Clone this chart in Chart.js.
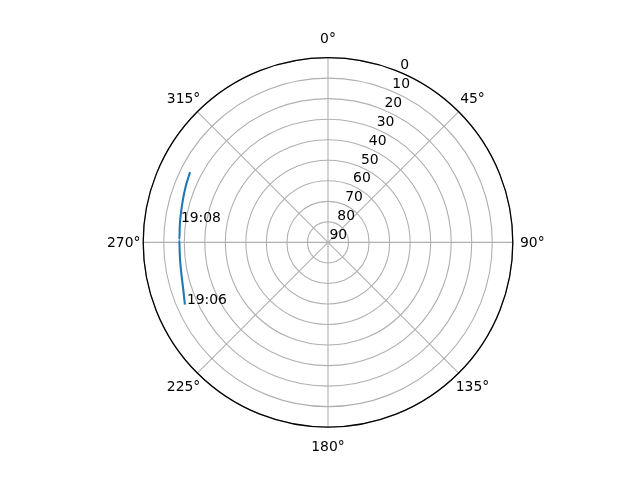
<!DOCTYPE html>
<html>
<head>
<meta charset="utf-8">
<script src="https://cdn.jsdelivr.net/npm/chart.js@4/dist/chart.umd.min.js"></script>
<style>
  html, body { margin: 0; padding: 0; background: #fff; }
  canvas { display: block; }
</style>
</head>
<body>
<canvas id="sky" width="640" height="480"></canvas>
<script>
// satellite track (azimuth in degrees, clockwise from north; elevation in degrees)
const trackAzimuth = [246.5, 251, 256, 261, 266, 271, 276, 281, 286, 291, 297];
const trackElevation = [14.0, 15.6, 16.7, 17.3, 17.6, 17.6, 17.4, 17.0, 16.4, 15.6, 14.6];

// time labels along the track
const timeLabels = ['19:06', '19:08'];
const timeAzimuth = [246.4, 277.8];
const timeElevation = [15.0, 17.7];

// axis ticks
const elevationTicks = [0, 10, 20, 30, 40, 50, 60, 70, 80, 90];
const azimuthTicks = [0, 45, 90, 135, 180, 225, 270, 315];

const FONT = '13.9px "DejaVu Sans", sans-serif';

// elevation 90 at the centre, 0 on the rim
function toXY(az, el) {
    const r = 90 - el;
    const t = az * Math.PI / 180;
    return { x: r * Math.sin(t), y: r * Math.cos(t) };
}

const trackPoints = trackAzimuth.map((az, i) => toXY(az, trackElevation[i]));

// polar grid, tick labels and annotations, drawn with the x/y scales
const polarGrid = {
    id: 'polarGrid',
    beforeDatasetsDraw(chart) {
        const ctx = chart.ctx;
        const sx = chart.scales.x, sy = chart.scales.y;
        const cx = sx.getPixelForValue(0), cy = sy.getPixelForValue(0);
        const unit = sx.getPixelForValue(1) - cx;

        ctx.save();
        ctx.strokeStyle = '#b0b0b0';
        ctx.lineWidth = 1.1;
        elevationTicks.forEach(el => {
            const r = (90 - el) * unit;
            if (r <= 0) return;
            ctx.beginPath();
            ctx.arc(cx, cy, r, 0, Math.PI * 2);
            ctx.stroke();
        });
        azimuthTicks.forEach(az => {
            const p = toXY(az, 0);
            ctx.beginPath();
            ctx.moveTo(cx, cy);
            ctx.lineTo(sx.getPixelForValue(p.x), sy.getPixelForValue(p.y));
            ctx.stroke();
        });
        ctx.restore();
    },
    afterDatasetsDraw(chart) {
        const ctx = chart.ctx;
        const sx = chart.scales.x, sy = chart.scales.y;
        const cx = sx.getPixelForValue(0), cy = sy.getPixelForValue(0);
        const unit = sx.getPixelForValue(1) - cx;
        const R = 90 * unit;

        ctx.save();
        // rim
        ctx.strokeStyle = '#000';
        ctx.lineWidth = 1.3;
        ctx.beginPath();
        ctx.arc(cx, cy, R, 0, Math.PI * 2);
        ctx.stroke();

        ctx.fillStyle = '#000';
        ctx.font = FONT;

        // azimuth labels
        ctx.textAlign = 'center';
        ctx.textBaseline = 'middle';
        azimuthTicks.forEach(az => {
            const t = az * Math.PI / 180;
            const d = R + 19.5;
            ctx.fillText(az + '°', cx + d * Math.sin(t), cy - d * Math.cos(t) + 1);
        });

        // elevation labels along 22.5°
        ctx.textAlign = 'left';
        ctx.textBaseline = 'alphabetic';
        elevationTicks.forEach(el => {
            const p = toXY(22.5, el);
            ctx.fillText(String(el), sx.getPixelForValue(p.x) + 1.5, sy.getPixelForValue(p.y) - 3);
        });

        // time annotations
        timeLabels.forEach((txt, i) => {
            const p = toXY(timeAzimuth[i], timeElevation[i]);
            ctx.fillText(txt, sx.getPixelForValue(p.x), sy.getPixelForValue(p.y));
        });
        ctx.restore();
    }
};

new Chart(document.getElementById('sky'), {
    type: 'scatter',
    data: {
        datasets: [{
            data: trackPoints,
            showLine: true,
            borderColor: '#1f77b4',
            borderWidth: 2.1,
            pointRadius: 0,
            tension: 0.4,
            cubicInterpolationMode: 'monotone'
        }]
    },
    options: {
        responsive: false,
        animation: false,
        layout: { padding: { left: 143.2, right: 127.2, top: 57.6, bottom: 52.8 } },
        scales: {
            x: { type: 'linear', min: -90, max: 90, display: false },
            y: { type: 'linear', min: -90, max: 90, display: false }
        },
        plugins: { legend: { display: false }, tooltip: { enabled: false } }
    },
    plugins: [polarGrid]
});
</script>
</body>
</html>
